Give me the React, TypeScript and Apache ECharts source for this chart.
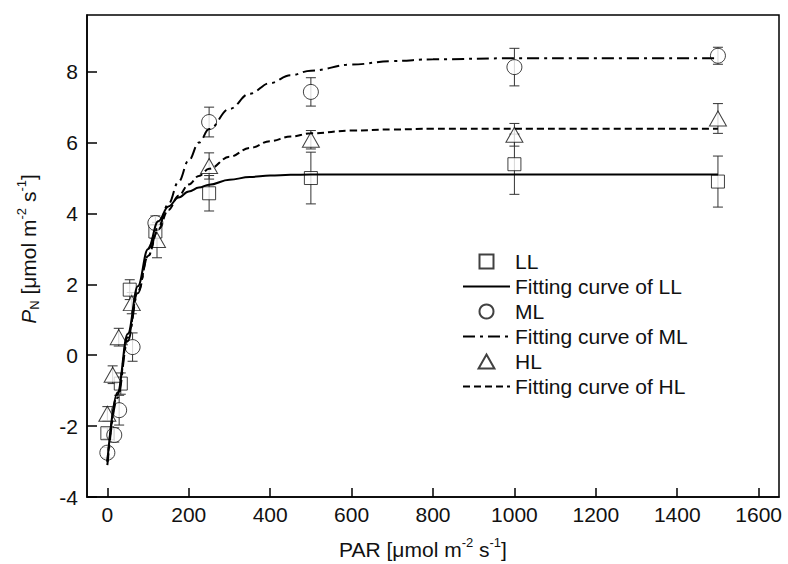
import React, { useEffect, useRef } from "react";
import * as echarts from "echarts";

// ---- measured data (PAR, P_N, SD) ----
const parLL = [0, 33, 55, 118, 250, 500, 1000, 1500];
const pnLL = [-2.2, -0.8, 1.85, 3.49, 4.57, 5.0, 5.39, 4.9];
const sdLL = [0.15, 0.3, 0.28, 0.2, 0.5, 0.73, 0.85, 0.72];

const parML = [0, 17, 29, 62, 118, 250, 500, 1000, 1500];
const pnML = [-2.75, -2.25, -1.55, 0.23, 3.73, 6.58, 7.43, 8.13, 8.45];
const sdML = [0.15, 0.2, 0.42, 0.4, 0.2, 0.42, 0.4, 0.53, 0.24];

const parHL = [0, 13, 28, 60, 122, 250, 500, 1000, 1500];
const pnHL = [-1.65, -0.55, 0.51, 1.47, 3.25, 5.34, 6.08, 6.22, 6.68];
const sdHL = [0.2, 0.25, 0.25, 0.3, 0.5, 0.37, 0.26, 0.32, 0.42];

// ---- fitted curves ----
const curvePAR = [0, 25, 50, 75, 100, 125, 150, 175, 200, 225, 250, 300, 350, 400, 450, 500, 600, 700, 800, 1000, 1200, 1500];
const fitLL = [-3.0, -1.05, 0.6, 1.95, 3.0, 3.78, 4.2, 4.45, 4.62, 4.73, 4.81, 4.95, 5.03, 5.07, 5.09, 5.1, 5.1, 5.1, 5.1, 5.1, 5.1, 5.1];
const fitML = [-3.1, -1.2, 0.4, 1.75, 2.8, 3.62, 4.27, 4.9, 5.5, 6.0, 6.38, 6.95, 7.38, 7.68, 7.9, 8.03, 8.2, 8.3, 8.35, 8.38, 8.38, 8.38];
const fitHL = [-3.0, -1.1, 0.5, 1.8, 2.8, 3.55, 4.1, 4.5, 4.82, 5.06, 5.26, 5.6, 5.85, 6.04, 6.17, 6.26, 6.34, 6.37, 6.39, 6.39, 6.39, 6.39];

const xTickMin = -50;
const xTickMax = 1650;
const yTickMin = -4;
const yTickMax = 9.6;

const FONT = "'Liberation Sans', Arial, sans-serif";
const TXT = "#111";
const FS = 21;

const pairs = (xs: number[], ys: number[]) => xs.map((x, i) => [x, ys[i]]);
const errs = (xs: number[], ys: number[], sd: number[]) =>
  xs.map((x, i) => [x, ys[i] - sd[i], ys[i] + sd[i]]);

const errorRender = (params: any, api: any) => {
  const x = api.value(0);
  const lo = api.value(1);
  const hi = api.value(2);
  const p1 = api.coord([x, hi]);
  const p2 = api.coord([x, lo]);
  const w = 5;
  const st = { stroke: "#333", lineWidth: 1 };
  return {
    type: "group",
    children: [
      { type: "line", shape: { x1: p1[0], y1: p1[1], x2: p2[0], y2: p2[1] }, style: st },
      { type: "line", shape: { x1: p1[0] - w, y1: p1[1], x2: p1[0] + w, y2: p1[1] }, style: st },
      { type: "line", shape: { x1: p2[0] - w, y1: p2[1], x2: p2[0] + w, y2: p2[1] }, style: st },
    ],
  };
};

const richLabel = {
  i: { fontStyle: "italic", fontSize: FS, fontFamily: FONT, color: TXT },
  sub: { fontSize: 13, lineHeight: 12, verticalAlign: "bottom", fontFamily: FONT, color: TXT },
  sup: { fontSize: 13, lineHeight: 12, verticalAlign: "top", fontFamily: FONT, color: TXT },
};

const markerStyle = { color: "#fff", borderColor: "#111", borderWidth: 1 };
const hiddenSymbol = { color: "#000", opacity: 0 };

export default function App() {
  const ref = useRef<HTMLDivElement>(null);
  useEffect(() => {
    if (!ref.current) return;
    const chart = echarts.init(ref.current, undefined, { renderer: "svg" });
    const option: any = {
      animation: false,
      backgroundColor: "#fff",
      grid: {
        left: 87,
        right: 9,
        top: 15,
        bottom: 67,
        show: true,
        borderColor: "#000",
        borderWidth: 1.5,
        outerBoundsMode: "none",
      },
      legend: {
        orient: "vertical",
        left: 462,
        top: 250,
        padding: 0,
        itemWidth: 47,
        itemHeight: 14,
        itemGap: 2,
        selectedMode: false,
        textStyle: { fontSize: FS, fontFamily: FONT, color: TXT, lineHeight: 23 },
        data: [
          { name: "LL", icon: "path://M0,0L10,0L10,10L0,10Z" },
          { name: "Fitting curve of LL" },
          { name: "ML", icon: "circle" },
          { name: "Fitting curve of ML" },
          { name: "HL", icon: "path://M8.5,0L17,15L0,15Z" },
          { name: "Fitting curve of HL" },
        ],
      },
      xAxis: {
        type: "value",
        min: xTickMin,
        max: xTickMax,
        splitNumber: 8,
        splitLine: { show: false },
        axisLine: { show: true, onZero: false, lineStyle: { color: "#000", width: 1.5 } },
        axisTick: { show: true, inside: true, length: 9, lineStyle: { color: "#000", width: 1.5 } },
        axisLabel: {
          showMinLabel: false,
          showMaxLabel: false,
          margin: 7,
          fontSize: FS,
          fontFamily: FONT,
          color: TXT,
          formatter: (v: number) => String(v),
        },
        name: "PAR [μmol m{sup|-2} s{sup|-1}]",
        nameLocation: "middle",
        nameGap: 39,
        nameTextStyle: {
          fontSize: FS, fontFamily: FONT, color: TXT, lineHeight: 26, rich: richLabel,
          padding: [0, 20, 0, 0],
        },
      },
      yAxis: {
        type: "value",
        min: yTickMin,
        max: yTickMax,
        interval: 2,
        splitLine: { show: false },
        axisLine: { show: true, onZero: false, lineStyle: { color: "#000", width: 1.5 } },
        axisTick: { show: true, inside: true, length: 10, lineStyle: { color: "#000", width: 1.5 } },
        axisLabel: {
          showMaxLabel: false,
          margin: 9,
          fontSize: FS,
          fontFamily: FONT,
          color: TXT,
          formatter: (v: number) => String(v),
        },
        name: "{i|P}{sub|N} [μmol m{sup|-2} s{sup|-1}]",
        nameLocation: "middle",
        nameRotate: 90,
        nameGap: 46,
        nameTextStyle: {
          fontSize: FS, fontFamily: FONT, color: TXT, lineHeight: 26, rich: richLabel,
          padding: [0, 0, 0, 14],
        },
      },
      series: [
        { type: "custom", name: "errLL", renderItem: errorRender, data: errs(parLL, pnLL, sdLL), encode: { x: 0, y: [1, 2] }, z: 1, silent: true },
        { type: "custom", name: "errML", renderItem: errorRender, data: errs(parML, pnML, sdML), encode: { x: 0, y: [1, 2] }, z: 1, silent: true },
        { type: "custom", name: "errHL", renderItem: errorRender, data: errs(parHL, pnHL, sdHL), encode: { x: 0, y: [1, 2] }, z: 1, silent: true },
        { type: "scatter", name: "LL", symbol: "rect", symbolSize: 13, itemStyle: markerStyle, data: pairs(parLL, pnLL), z: 2 },
        { type: "scatter", name: "ML", symbol: "circle", symbolSize: 15, itemStyle: markerStyle, data: pairs(parML, pnML), z: 2 },
        { type: "scatter", name: "HL", symbol: "triangle", symbolSize: [17, 15], itemStyle: markerStyle, data: pairs(parHL, pnHL), z: 2 },
        {
          type: "line", name: "Fitting curve of LL", data: pairs(curvePAR, fitLL), symbol: "none", showSymbol: false,
          smooth: 0.4, smoothMonotone: "x", lineStyle: { color: "#000", width: 2, type: "solid" }, itemStyle: hiddenSymbol, z: 3,
        },
        {
          type: "line", name: "Fitting curve of ML", data: pairs(curvePAR, fitML), symbol: "none", showSymbol: false,
          smooth: 0.4, smoothMonotone: "x", lineStyle: { color: "#000", width: 2, type: [12, 5, 3, 5] }, itemStyle: hiddenSymbol, z: 3,
        },
        {
          type: "line", name: "Fitting curve of HL", data: pairs(curvePAR, fitHL), symbol: "none", showSymbol: false,
          smooth: 0.4, smoothMonotone: "x", lineStyle: { color: "#000", width: 2, type: [7, 4] }, itemStyle: hiddenSymbol, z: 3,
        },
      ],
    };
    chart.setOption(option);
    return () => chart.dispose();
  }, []);
  return (
    <div
      ref={ref}
      style={{ position: "fixed", left: 0, top: 0, width: 788, height: 564, background: "#fff" }}
    />
  );
}
